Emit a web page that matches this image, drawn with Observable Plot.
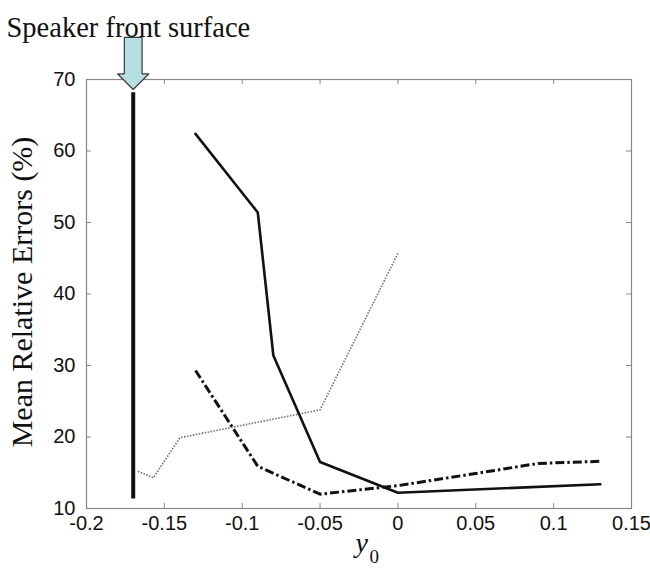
<!DOCTYPE html>
<html>
<head>
<meta charset="utf-8">
<script src="https://cdn.jsdelivr.net/npm/d3@7"></script>
<script src="https://cdn.jsdelivr.net/npm/@observablehq/plot@0.6"></script>
<style>
  html, body { margin: 0; padding: 0; background: #fff; }
  svg { display: block; }
</style>
</head>
<body>
<div id="chart"></div>
<script>
// ---- data ----
const title = "Speaker front surface";
const yLabel = "Mean Relative Errors (%)";
const xLabelMain = "y";
const xLabelSub = "0";

const xTicks = [-0.2, -0.15, -0.1, -0.05, 0, 0.05, 0.1, 0.15];
const xTickLabels = ["-0.2", "-0.15", "-0.1", "-0.05", "0", "0.05", "0.1", "0.15"];
const yTicks = [10, 20, 30, 40, 50, 60, 70];
const yTickLabels = ["10", "20", "30", "40", "50", "60", "70"];

// speaker front surface (vertical wall)
const wallX = [-0.17, -0.17];
const wallY = [11.4, 68.2];

// solid series
const solidX = [-0.13, -0.09, -0.08, -0.05, 0, 0.13];
const solidY = [62.4, 51.4, 31.4, 16.5, 12.2, 13.4];

// dash-dot series
const dashX = [-0.13, -0.09, -0.05, 0, 0.05, 0.09, 0.13];
const dashY = [29.3, 15.9, 12.0, 13.2, 14.9, 16.3, 16.6];

// dotted series
const dotX = [-0.167, -0.157, -0.14, -0.05, 0];
const dotY = [15.2, 14.3, 19.9, 23.8, 45.7];

// arrow annotation (x position, top, head base, tip in data units)
const arrowX = -0.17;
const arrowTop = 75.9;
const arrowHeadBase = 70.8;
const arrowTip = 68.6;
const arrowShaftHalf = 0.0057;
const arrowHeadHalf = 0.0101;

// ---- layout ----
const W = 650, H = 575;
const mL = 86, mR = 19, mT = 79, mB = 67;
const frameW = W - mL - mR, frameH = H - mT - mB;
const tickLen = 5;

const zip = (xs, ys) => xs.map((x, i) => ({x, y: ys[i]}));
const arrowPoly = [
  {x: arrowX - arrowShaftHalf, y: arrowTop},
  {x: arrowX + arrowShaftHalf, y: arrowTop},
  {x: arrowX + arrowShaftHalf, y: arrowHeadBase},
  {x: arrowX + arrowHeadHalf, y: arrowHeadBase},
  {x: arrowX, y: arrowTip},
  {x: arrowX - arrowHeadHalf, y: arrowHeadBase},
  {x: arrowX - arrowShaftHalf, y: arrowHeadBase},
  {x: arrowX - arrowShaftHalf, y: arrowTop}
];

const sans = "'Liberation Sans', Arial, sans-serif";
const serif = "'Liberation Serif', 'Times New Roman', serif";
const tickCol = "#888";

const chart = Plot.plot({
  width: W, height: H,
  marginLeft: mL, marginRight: mR, marginTop: mT, marginBottom: mB,
  style: {fontFamily: sans, background: "#fff", overflow: "visible"},
  x: {domain: [-0.2, 0.15], axis: null},
  y: {domain: [10, 70], axis: null},
  marks: [
    Plot.frame({stroke: tickCol, strokeWidth: 1.2}),
    // inward ticks
    Plot.tickX(xTicks, {x: d => d, insetTop: frameH - tickLen, stroke: tickCol}),
    Plot.tickX(xTicks, {x: d => d, insetBottom: frameH - tickLen, stroke: tickCol}),
    Plot.tickY(yTicks, {y: d => d, insetRight: frameW - tickLen, stroke: tickCol}),
    Plot.tickY(yTicks, {y: d => d, insetLeft: frameW - tickLen, stroke: tickCol}),
    // tick labels
    Plot.text(xTicks, {x: d => d, text: (d, i) => xTickLabels[i], frameAnchor: "bottom",
      dy: 21, fontSize: 20, fill: "#111", fontFamily: sans}),
    Plot.text(yTicks, {y: d => d, text: (d, i) => yTickLabels[i], frameAnchor: "left",
      textAnchor: "end", dx: -11, fontSize: 20, fill: "#111", fontFamily: sans}),
    // data lines
    Plot.line(zip(dotX, dotY), {x: "x", y: "y", stroke: "#6e6e6e", strokeWidth: 1.6,
      strokeDasharray: "1.5,1.5", strokeLinecap: "butt"}),
    Plot.line(zip(dashX, dashY), {x: "x", y: "y", stroke: "#111", strokeWidth: 3,
      strokeDasharray: "9,3,2.5,3", strokeLinecap: "butt"}),
    Plot.line(zip(solidX, solidY), {x: "x", y: "y", stroke: "#111", strokeWidth: 2.6}),
    Plot.line(zip(wallX, wallY), {x: "x", y: "y", stroke: "#111", strokeWidth: 4, strokeLinecap: "butt"}),
    // arrow
    Plot.line(arrowPoly, {x: "x", y: "y", fill: "#b6dfe2", stroke: "#3a3a3a", strokeWidth: 1.2,
      strokeLinejoin: "miter", clip: false}),
    // titles
    Plot.text([title], {frameAnchor: "top-left", textAnchor: "start", dx: -80, dy: -63,
      fontSize: 28.5, fontFamily: serif, fill: "#111"}),
    Plot.text([yLabel], {frameAnchor: "left", textAnchor: "middle", rotate: -90, dx: -64, dy: -2,
      fontSize: 30, fontFamily: serif, fill: "#111"}),
    Plot.text([xLabelMain], {frameAnchor: "bottom-left", textAnchor: "start", dx: 269, dy: 43,
      fontSize: 28, fontStyle: "italic", fontFamily: serif, fill: "#111"}),
    Plot.text([xLabelSub], {frameAnchor: "bottom-left", textAnchor: "start", dx: 283, dy: 54,
      fontSize: 19, fontFamily: serif, fill: "#111"})
  ]
});
document.getElementById("chart").appendChild(chart);
</script>
</body>
</html>
